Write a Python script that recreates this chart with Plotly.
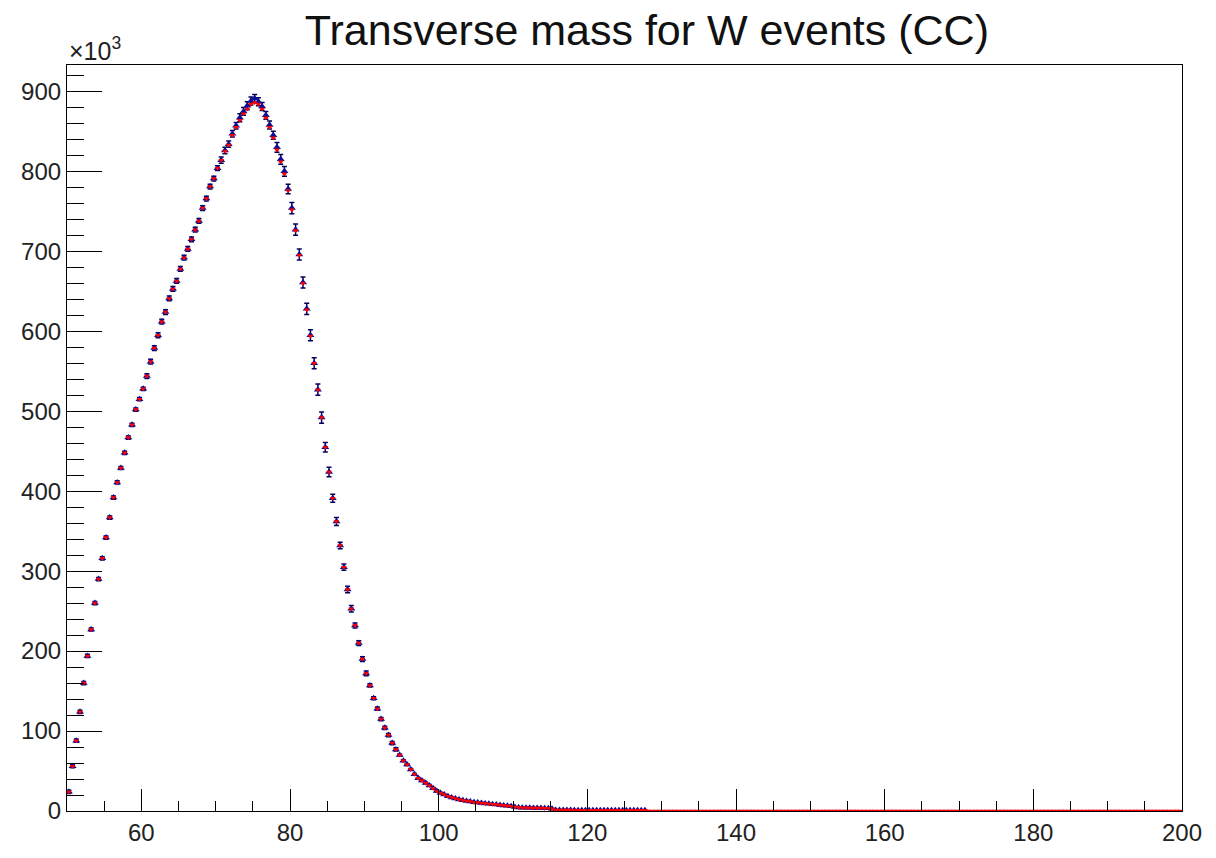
import plotly.graph_objects as go

# bin centres: 0.5-wide bins from 50 to 200
bin_lo = 50.0
bin_w = 0.5
n_bins = 300
x_all = [bin_lo + bin_w * (i + 0.5) for i in range(n_bins)]

# blue series (values in units of 10^3), bins 50.0 .. 128.0
blue_vals = [
    24, 56, 88, 124, 160, 194, 227, 260, 290, 316,
    342, 367, 392, 411, 429, 448, 467, 483, 502, 515,
    528, 544, 562, 579, 595, 612, 624, 641, 653, 663,
    678, 692, 703, 715, 727, 738, 754, 766, 781, 791,
    804, 814, 826, 834, 847, 857, 867, 875, 882, 888,
    891, 887, 881, 870, 858, 845, 830, 815, 800, 778,
    754, 727, 696, 661, 628, 595, 560, 527, 492, 455,
    424, 391, 362, 332, 305, 277, 253, 232, 210, 190,
    172, 157, 141, 128, 115, 104, 95, 85, 77, 70,
    63, 58, 52, 46, 41, 38, 35, 32, 28.5, 25,
    22.5, 20.5, 18.5, 17, 15.5, 14.5, 13.5, 12.5, 12, 11,
    10.5, 10, 9.5, 9, 8.5, 8, 7.5, 7, 6.5, 6,
    5, 4.5, 4.2, 4, 4, 3.8, 3.8, 3.6, 3.5, 3.3,
    2.8, 1.2, 1.2, 1.1, 1.1, 1.1, 1.0, 1.0, 1.0, 1.0,
    0.9, 0.9, 0.9, 0.9, 0.9, 0.8, 0.8, 0.8, 0.8, 0.8,
    0.8, 0.8, 0.8, 0.8, 0.8, 0.8,
]

blue_errs = [
    2, 2, 2, 2, 2, 2, 2, 2, 2, 2,
    2, 2, 2, 2, 2, 2, 2, 2, 2, 2,
    2, 3, 3, 3, 3, 3, 3, 3, 3, 3,
    3, 3, 3, 3, 3, 3, 3, 3, 3, 3,
    3, 4, 4, 4, 4, 4, 5, 5, 5, 5,
    5, 5, 5, 5, 5, 5, 6, 6, 6, 6,
    7, 7, 7, 7, 7, 7, 7, 7, 7, 6,
    6, 5, 5, 4, 4, 4, 4, 3, 3, 3,
    3, 2, 2, 2, 2, 2, 2, 2, 2, 1,
    1, 1, 1, 1, 1, 1, 1, 1, 1, 1,
    0.5, 0.5, 0.5, 0.5, 0.5, 0.5, 0.5, 0.5, 0.5, 0.5,
    0.5, 0.5, 0.5, 0.5, 0.5, 0.5, 0.5, 0.5, 0.5, 0.5,
    0.3, 0.3, 0.3, 0.3, 0.3, 0.3, 0.3, 0.3, 0.3, 0.3,
    0.3, 0.3, 0.3, 0.3, 0.3, 0.3, 0.3, 0.3, 0.3, 0.3,
    0.3, 0.3, 0.3, 0.3, 0.3, 0.3, 0.3, 0.3, 0.3, 0.3,
    0.3, 0.3, 0.3, 0.3, 0.3, 0.3,
]

# red series (values in units of 10^3), all 300 bins
red_vals = [
    24, 56, 88, 124, 160, 194, 227, 260, 290, 316,
    342, 367, 392, 411, 429, 448, 467, 483, 502, 515,
    528, 544, 562, 579, 595, 612, 624, 641, 653, 663,
    678, 692, 703, 715, 727, 738, 754, 766, 781, 791,
    804, 814, 825, 833, 845, 855, 864, 872, 878, 884,
    886, 884, 878, 867, 855, 842, 827, 812, 797, 776,
    752, 726, 695, 660, 627, 594, 560, 527, 492, 455,
    424, 391, 362, 332, 305, 277, 253, 232, 210, 190,
    172, 157, 141, 128, 115, 104, 95, 85, 77, 70,
    63, 58, 52, 46, 41, 38, 35, 32, 28.5, 25,
    22.5, 20.5, 18.5, 17, 15.5, 14.5, 13.5, 12.5, 12, 11,
    10.5, 10, 9.5, 9, 8.5, 8, 7.5, 7, 6.5, 6,
    5, 4.5, 4.2, 4, 4, 3.8, 3.8, 3.6, 3.5, 3.3,
    2.8, 1.2, 1.2, 1.1, 1.1, 1.1, 1.0, 1.0, 1.0, 1.0,
    0.9, 0.9, 0.9, 0.9, 0.9, 0.8, 0.8, 0.8, 0.8, 0.8,
    0.8, 0.8, 0.8, 0.8, 0.8, 0.8,
] + [0] * 144

x_ticks = [60, 80, 100, 120, 140, 160, 180, 200]
y_ticks = [0, 100, 200, 300, 400, 500, 600, 700, 800, 900]

title_text = "Transverse mass for W events (CC)"
exp_label = "×10<sup>3</sup>"

x_blue = x_all[:len(blue_vals)]
x_red = x_all[:len(red_vals)]

FONT = "Liberation Sans, Arial, Helvetica, sans-serif"

fig = go.Figure()
fig.add_trace(go.Scatter(
    x=x_blue, y=blue_vals, mode="markers",
    marker=dict(symbol="triangle-up", size=7, color="#0c0c94"),
    error_y=dict(type="data", array=blue_errs, visible=True,
                 color="#000058", thickness=1.5, width=2.5),
    showlegend=False,
))
fig.add_trace(go.Scatter(
    x=x_red, y=red_vals, mode="markers",
    marker=dict(symbol="triangle-down", size=5, color="#ff0000"),
    error_x=dict(type="constant", value=bin_w / 2, visible=True,
                 color="#ff0000", thickness=1.3, width=0),
    showlegend=False,
))

axis_common = dict(
    showline=True, linecolor="black", linewidth=1.2, mirror=True,
    showgrid=False, zeroline=False, ticks="inside", tickcolor="black",
    tickwidth=1.2, tickfont=dict(family=FONT, size=24, color="#222"),
)

fig.update_layout(
    width=1216, height=858,
    margin=dict(l=67, r=34, t=65, b=38),
    paper_bgcolor="white", plot_bgcolor="white",
    font=dict(family=FONT),
    xaxis=dict(range=[50, 200], tickvals=x_ticks, ticklen=22,
               minor=dict(dtick=5, tick0=0, ticklen=10, ticks="inside",
                          tickcolor="black", tickwidth=1.2),
               **axis_common),
    yaxis=dict(range=[0, 933], tickvals=y_ticks, ticklen=35,
               minor=dict(dtick=20, tick0=0, ticklen=17, ticks="inside",
                          tickcolor="black", tickwidth=1.2),
               **axis_common),
    annotations=[
        dict(text=exp_label, x=0, xref="paper", y=1.0, yref="paper",
             xanchor="left", yanchor="bottom", yshift=-2, showarrow=False,
             font=dict(family=FONT, size=25, color="#222")),
    ],
    title=dict(text=title_text, x=0.532, xanchor="center",
               y=0.965, yanchor="middle",
               font=dict(family=FONT, size=43, color="#111")),
)

fig.write_html("out.html")
